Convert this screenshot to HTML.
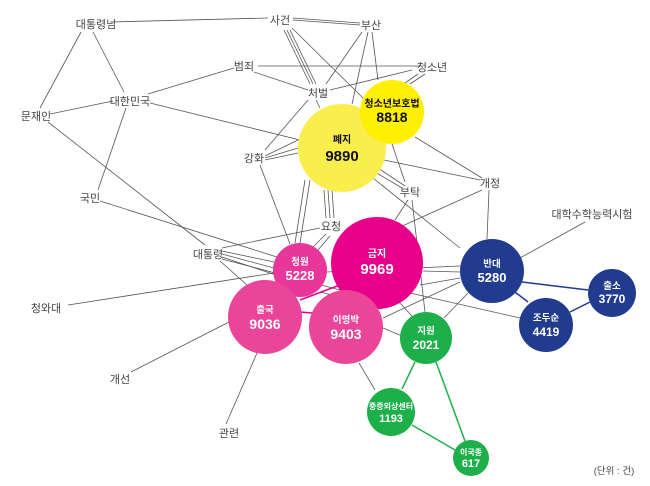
<!DOCTYPE html>
<html><head><meta charset="utf-8"><style>
html,body{margin:0;padding:0;background:#fff;}
svg{display:block;}
text{font-family:"Liberation Sans","Noto Sans CJK KR",sans-serif;}
.l{font-size:11px;fill:#444;text-anchor:middle;}
.w{fill:#fff;text-anchor:middle;font-weight:bold;}
.k{fill:#111;text-anchor:middle;font-weight:bold;}
</style></head><body>
<svg width="650" height="486" viewBox="0 0 650 486">
<g stroke="#555" stroke-width="0.8" fill="none">
<line x1="110" y1="22" x2="268" y2="18"/>
<line x1="81" y1="32" x2="40" y2="108"/>
<line x1="93" y1="32" x2="124" y2="92"/>
<line x1="113" y1="101" x2="50" y2="114"/>
<line x1="148" y1="94" x2="234" y2="68"/>
<line x1="150" y1="103" x2="300" y2="140"/>
<line x1="126" y1="108" x2="98" y2="190"/>
<line x1="48" y1="122" x2="205" y2="245"/>
<line x1="100" y1="201" x2="280" y2="258"/>
<line x1="293" y1="18" x2="360" y2="23"/>
<line x1="293" y1="20" x2="360" y2="25"/>
<line x1="284" y1="30" x2="310" y2="84"/>
<line x1="287" y1="30" x2="313" y2="84"/>
<line x1="290" y1="30" x2="316" y2="84"/>
<line x1="292" y1="28" x2="365" y2="100"/>
<line x1="258" y1="66" x2="420" y2="66"/>
<line x1="254" y1="72" x2="308" y2="90"/>
<line x1="330" y1="90" x2="412" y2="70"/>
<line x1="362" y1="32" x2="326" y2="84"/>
<line x1="368" y1="32" x2="352" y2="104"/>
<line x1="372" y1="32" x2="378" y2="80"/>
<line x1="418" y1="74" x2="405" y2="83"/>
<line x1="425" y1="74" x2="410" y2="84"/>
<line x1="308" y1="100" x2="265" y2="150"/>
<line x1="316" y1="100" x2="320" y2="108"/>
<line x1="265" y1="156" x2="298" y2="140"/>
<line x1="265" y1="158" x2="298" y2="148"/>
<line x1="265" y1="160" x2="298" y2="153"/>
<line x1="260" y1="165" x2="290" y2="244"/>
<line x1="310" y1="180" x2="300" y2="243"/>
<line x1="305" y1="180" x2="295" y2="243"/>
<line x1="324" y1="190" x2="326" y2="218"/>
<line x1="328" y1="190" x2="330" y2="218"/>
<line x1="332" y1="190" x2="334" y2="218"/>
<line x1="384" y1="160" x2="480" y2="180"/>
<line x1="378" y1="168" x2="405" y2="186"/>
<line x1="375" y1="172" x2="402" y2="188"/>
<line x1="373" y1="178" x2="460" y2="248"/>
<line x1="415" y1="137" x2="482" y2="178"/>
<line x1="392" y1="144" x2="405" y2="182"/>
<line x1="412" y1="200" x2="425" y2="312"/>
<line x1="408" y1="200" x2="395" y2="220"/>
<line x1="482" y1="190" x2="398" y2="228"/>
<line x1="489" y1="190" x2="487" y2="239"/>
<line x1="585" y1="222" x2="520" y2="258"/>
<line x1="320" y1="228" x2="222" y2="248"/>
<line x1="222" y1="251" x2="274" y2="262"/>
<line x1="222" y1="254" x2="274" y2="268"/>
<line x1="222" y1="257" x2="276" y2="275"/>
<line x1="222" y1="259" x2="340" y2="290"/>
<line x1="220" y1="261" x2="247" y2="285"/>
<line x1="68" y1="305" x2="274" y2="273"/>
<line x1="131" y1="372" x2="229" y2="322"/>
<line x1="226" y1="424" x2="257" y2="353"/>
<line x1="423" y1="271" x2="460" y2="272"/>
<line x1="420" y1="285" x2="460" y2="278"/>
<line x1="410" y1="293" x2="520" y2="318"/>
<line x1="327" y1="272" x2="460" y2="266"/>
<line x1="383" y1="318" x2="460" y2="282"/>
<line x1="383" y1="328" x2="402" y2="336"/>
<line x1="399" y1="302" x2="412" y2="316"/>
<line x1="468" y1="293" x2="444" y2="318"/>
<line x1="359" y1="363" x2="375" y2="390"/>
<line x1="320" y1="292" x2="336" y2="296"/>
<line x1="318" y1="250" x2="330" y2="236"/>
<line x1="312" y1="248" x2="326" y2="234"/>
</g>
<g stroke-width="1.5" fill="none">
<line x1="522" y1="282" x2="588" y2="290" stroke="#213b8f"/>
<line x1="515" y1="292" x2="528" y2="302" stroke="#213b8f"/>
<line x1="570" y1="312" x2="590" y2="302" stroke="#213b8f"/>
<line x1="300" y1="300" x2="340" y2="285" stroke="#e8008a"/>
<line x1="300" y1="312" x2="312" y2="313" stroke="#e8008a"/>
<line x1="415" y1="362" x2="402" y2="389" stroke="#1db04a"/>
<line x1="436" y1="362" x2="465" y2="441" stroke="#1db04a"/>
<line x1="412" y1="425" x2="455" y2="450" stroke="#1db04a"/>
</g>
<circle cx="342" cy="148" r="44" fill="#faee4c"/>
<circle cx="392" cy="112" r="32" fill="#ffef00"/>
<circle cx="377" cy="263" r="46" fill="#e8008a"/>
<circle cx="300" cy="270" r="27" fill="#e8379a"/>
<circle cx="265" cy="317" r="37" fill="#ea4599"/>
<circle cx="346" cy="327" r="37" fill="#ea4599"/>
<circle cx="492" cy="271" r="32" fill="#213b8f"/>
<circle cx="612" cy="293" r="24" fill="#213b8f"/>
<circle cx="546" cy="325" r="27" fill="#213b8f"/>
<circle cx="426" cy="338" r="26" fill="#1db04a"/>
<circle cx="391" cy="412" r="24" fill="#1db04a"/>
<circle cx="471" cy="458" r="18" fill="#1db04a"/>
<text class="k" x="342" y="143" font-size="10">폐지</text>
<text class="k" x="342" y="161" font-size="15">9890</text>
<text class="k" x="392" y="107" font-size="10">청소년보호법</text>
<text class="k" x="392" y="122" font-size="14">8818</text>
<text class="w" x="377" y="257" font-size="10">금지</text>
<text class="w" x="377" y="274" font-size="15">9969</text>
<text class="w" x="300" y="265" font-size="9.5">청원</text>
<text class="w" x="300" y="280" font-size="13">5228</text>
<text class="w" x="265" y="313" font-size="9.5">출국</text>
<text class="w" x="265" y="329" font-size="14">9036</text>
<text class="w" x="346" y="323" font-size="9.5">이명박</text>
<text class="w" x="346" y="339" font-size="14">9403</text>
<text class="w" x="492" y="267" font-size="9.5">반대</text>
<text class="w" x="492" y="282" font-size="13">5280</text>
<text class="w" x="612" y="289" font-size="9.5">출소</text>
<text class="w" x="612" y="303" font-size="12">3770</text>
<text class="w" x="546" y="321" font-size="9.5">조두순</text>
<text class="w" x="546" y="336" font-size="12">4419</text>
<text class="w" x="426" y="334" font-size="9.5">지원</text>
<text class="w" x="426" y="349" font-size="12">2021</text>
<text class="w" x="391" y="409" font-size="8">중증외상센터</text>
<text class="w" x="391" y="422" font-size="11">1193</text>
<text class="w" x="471" y="455" font-size="8">이국종</text>
<text class="w" x="471" y="467" font-size="11">617</text>
<g class="l">
<text x="280" y="24">사건</text>
<text x="371" y="29">부산</text>
<text x="432" y="71">청소년</text>
<text x="244" y="70">범죄</text>
<text x="318" y="97">처벌</text>
<text x="96" y="28">대통령님</text>
<text x="130" y="105">대한민국</text>
<text x="36" y="120">문재인</text>
<text x="254" y="162">강화</text>
<text x="410" y="196">부탁</text>
<text x="490" y="187">개정</text>
<text x="90" y="202">국민</text>
<text x="331" y="230">요청</text>
<text x="592" y="218">대학수학능력시험</text>
<text x="208" y="258">대통령</text>
<text x="46" y="312">청와대</text>
<text x="120" y="383">개선</text>
<text x="229" y="437">관련</text>
<text x="614" y="474" font-size="9.5">(단위 : 건)</text>
</g>
</svg>
</body></html>
